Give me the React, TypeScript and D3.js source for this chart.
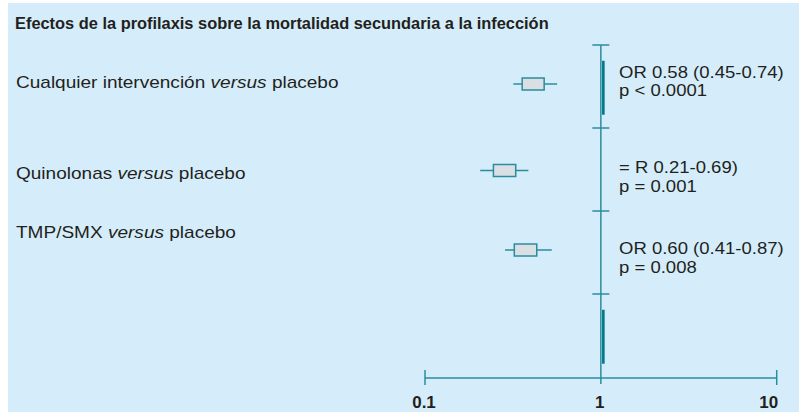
import React from "react";
import * as d3 from "d3";

// rows of the forest plot
const comparisons = ["Cualquier intervención", "Quinolonas", "TMP/SMX"];
const ciLow = [0.318, 0.206, 0.285];
const ciHigh = [0.564, 0.387, 0.526];
const boxLow = [0.357, 0.245, 0.322];
const boxHigh = [0.476, 0.328, 0.432];
const orText = ["OR 0.58 (0.45-0.74)", "= R 0.21-0.69)", "OR 0.60 (0.41-0.87)"];
const pText = ["p < 0.0001", "p = 0.001", "p = 0.008"];
const summaryRows = [0, 3];
const rowIds = [0, 1, 2, 3];
const axisTicks = [0.1, 1, 10];
const axisTickLabels = ["0.1", "1", "10"];

const title = "Efectos de la profilaxis sobre la mortalidad secundaria a la infección";

const W = 799;
const H = 412;
const FONT = "'Liberation Sans', Arial, Helvetica, sans-serif";
const BG = "#d5edfa";
const TEAL = "#2b8c9e";
const DARK = "#00788a";
const INK = "#231f20";

// small layout nudges per row (label / text / box vertical placement)
const labelDy = [1.5, 9.8, -14.8];
const statDy = [-9, 3.8, 1.8];
const boxDy = [-2.5, 1, -2.5];

// the source type is set a little wider than Arial
const stretch = (x: number, y: number, sx: number) => `translate(${x},${y}) scale(${sx},1)`;

export default function App() {
  const x = d3.scaleLog().domain([0.1, 10]).range([425, 776.7]);
  const y = d3.scaleBand<number>().domain(rowIds).range([45, 377]).padding(0);
  const bw = y.bandwidth();
  const axisY = 378;
  const x1 = x(1);

  return (
    <div style={{ position: "fixed", left: 0, top: 0 }}>
      <svg width={W} height={H} style={{ display: "block", fontFamily: FONT }}>
        <rect x={0} y={0} width={W} height={H} fill="#ffffff" />
        <rect x={8} y={3} width={W - 8} height={H - 3} fill={BG} />

        <text transform={stretch(15, 29, 1.025)} fontSize={16} fontWeight="bold" fill={INK}>
          {title}
        </text>

        {/* reference line at OR = 1 */}
        <line x1={x1} x2={x1} y1={y(0)!} y2={axisY + 6} stroke={TEAL} strokeWidth={1.5} />
        {rowIds.map((r) => (
          <line key={"c" + r} x1={x1 - 8.5} x2={x1 + 8.5} y1={y(r)!} y2={y(r)!} stroke={TEAL} strokeWidth={1.5} />
        ))}
        {summaryRows.map((r) => (
          <rect
            key={"s" + r}
            x={x1 + 1.2}
            y={y(r)! + bw * 0.19}
            width={2.6}
            height={bw * 0.65}
            fill={DARK}
          />
        ))}

        {/* estimates */}
        {comparisons.map((c, i) => {
          const cy = y(i)! + bw / 2 + boxDy[i];
          return (
            <g key={"e" + i}>
              <line x1={x(ciLow[i])} x2={x(ciHigh[i])} y1={cy} y2={cy} stroke={TEAL} strokeWidth={1.5} />
              <rect
                x={x(boxLow[i])}
                y={cy - 6}
                width={x(boxHigh[i]) - x(boxLow[i])}
                height={12}
                fill="#d9dfe3"
                stroke={TEAL}
                strokeWidth={1.5}
              />
            </g>
          );
        })}

        {/* labels */}
        {comparisons.map((c, i) => (
          <text key={"l" + i} transform={stretch(16, y(i)! + bw / 2 + labelDy[i], 1.12)} fontSize={17} fill={INK}>
            {c + " "}
            <tspan fontStyle="italic">versus</tspan>
            {" placebo"}
          </text>
        ))}
        {comparisons.map((c, i) => {
          const ty = y(i)! + bw / 2 + statDy[i];
          return (
            <g key={"t" + i} fontSize={17} fill={INK}>
              <text transform={stretch(619, ty, 1.09)}>{orText[i]}</text>
              <text transform={stretch(619, ty + 18.5, 1.09)}>{pText[i]}</text>
            </g>
          );
        })}

        {/* x axis */}
        <line x1={x(0.1)} x2={x(10)} y1={axisY} y2={axisY} stroke={TEAL} strokeWidth={1.5} />
        {axisTicks.map((t, i) => (
          <g key={"a" + i}>
            {i !== 1 && (
              <line x1={x(t)} x2={x(t)} y1={axisY - 8} y2={axisY + 7} stroke={TEAL} strokeWidth={1.5} />
            )}
            <text
              x={x(t) + (i === 2 ? 1.5 : -1)}
              y={408}
              fontSize={17}
              fontWeight="bold"
              textAnchor={i === 2 ? "end" : "middle"}
              fill={INK}
            >
              {axisTickLabels[i]}
            </text>
          </g>
        ))}
      </svg>
    </div>
  );
}
